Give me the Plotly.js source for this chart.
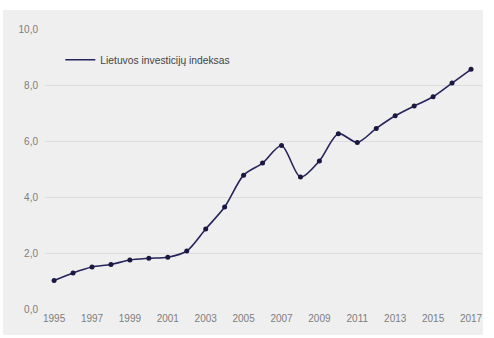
<!DOCTYPE html>
<html><head><meta charset="utf-8">
<script src="https://cdn.plot.ly/plotly-3.0.1.min.js"></script>
<style>
html,body{margin:0;padding:0;background:#ffffff;}
#chart{position:absolute;left:3px;top:10px;width:480px;height:325px;}
</style></head>
<body><div id="chart"></div>
<script>
const years = [1995,1996,1997,1998,1999,2000,2001,2002,2003,2004,2005,2006,2007,2008,2009,2010,2011,2012,2013,2014,2015,2016,2017];
const indexValues = [1.02,1.29,1.50,1.59,1.75,1.81,1.85,2.07,2.86,3.64,4.78,5.21,5.84,4.71,5.29,6.26,5.95,6.45,6.90,7.25,7.58,8.07,8.56];
const seriesName = 'Lietuvos investicijų indeksas';
const xTicks = [1995,1997,1999,2001,2003,2005,2007,2009,2011,2013,2015,2017];
const yTicks = [0,2,4,6,8,10];

const lineTrace = {
  x: years, y: indexValues, name: seriesName,
  type: 'scatter', mode: 'lines',
  line: {color: '#26245a', width: 1.6, shape: 'spline', smoothing: 0.8},
  showlegend: true
};
const markerTrace = {
  x: years, y: indexValues, name: seriesName,
  type: 'scatter', mode: 'markers',
  marker: {color: '#1a1840', size: 5},
  showlegend: false
};
const layout = {
  width: 480, height: 325,
  margin: {l: 42, r: 1, t: 19, b: 26},
  paper_bgcolor: '#efefef', plot_bgcolor: '#efefef',
  separators: ',.',
  font: {family: 'Liberation Sans, Arial, sans-serif', color: '#777777', size: 10},
  xaxis: {range: [1994.52, 2017.58], tickvals: xTicks, ticktext: xTicks.map(String),
          showgrid: false, zeroline: false, showline: false, ticks: '',
          ticklabelstandoff: 2,
          tickfont: {size: 10, color: '#7d7d7d'}},
  yaxis: {range: [0, 10], tickvals: yTicks, tickformat: '.1f',
          showgrid: true, gridcolor: '#dddddd', gridwidth: 1, zeroline: false,
          showline: false, ticks: '', ticklabelstandoff: 6,
          tickfont: {size: 10, color: '#7d7d7d'}},
  legend: {x: 0.035, y: 0.89, xanchor: 'left', yanchor: 'middle', bgcolor: 'rgba(0,0,0,0)',
           font: {size: 10.3, color: '#444444'}, itemwidth: 30},
  showlegend: true
};
Plotly.newPlot('chart', [lineTrace, markerTrace], layout, {displayModeBar: false, staticPlot: true});
</script></body></html>
